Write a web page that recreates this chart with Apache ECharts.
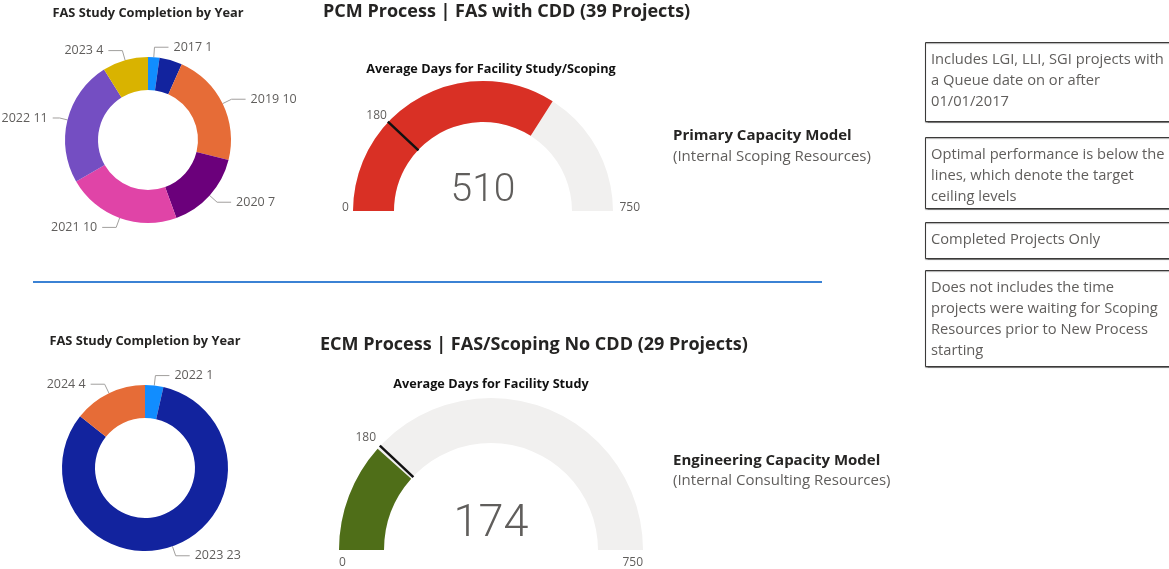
<!DOCTYPE html>
<html><head><meta charset="utf-8">
<script src="https://cdn.jsdelivr.net/npm/echarts@6/dist/echarts.min.js"></script>
<style>html,body{margin:0;padding:0;background:#fff;overflow:hidden}#c{width:1169px;height:569px}</style>
</head><body><div id="c"></div>
<script>
// ---------- data ----------
const topYears = ['2017', '2018', '2019', '2020', '2021', '2022', '2023'];
const topCounts = [1, 2, 10, 7, 10, 11, 4];
const bottomYears = ['2022', '2023', '2024'];
const bottomCounts = [1, 23, 4];
const hiddenLabelYears = ['2018'];
const shortLineYears = ['2022'];
const pcmAvgDays = 510;
const ecmAvgDays = 174;
const targetDays = 180;
const gaugeMin = 0;
const gaugeMax = 750;
const targetStep = 30;
const pcmTitle = 'PCM Process | FAS with CDD (39 Projects)';
const ecmTitle = 'ECM Process | FAS/Scoping No CDD (29 Projects)';
const donutTitle = 'FAS Study Completion by Year';
const pcmGaugeTitle = 'Average Days for Facility Study/Scoping';
const ecmGaugeTitle = 'Average Days for Facility Study';
const pcmModel = ['Primary Capacity Model', '(Internal Scoping Resources)'];
const ecmModel = ['Engineering Capacity Model', '(Internal Consulting Resources)'];
const notes = [
  'Includes LGI, LLI, SGI projects with\na Queue date on or after\n01/01/2017',
  'Optimal performance is below the\nlines, which denote the target\nceiling levels',
  'Completed Projects Only',
  'Does not includes the time\nprojects were waiting for Scoping\nResources prior to New Process\nstarting'
];

// ---------- styles ----------
const palette = ['#118DFF', '#12239E', '#E66C37', '#6B007B', '#E044A7', '#744EC2', '#D9B300'];
const FONT = '"Open Sans", "Noto Sans", sans-serif';
const DARK = '#252423';
const GREY = '#605E5C';

const chart = echarts.init(document.getElementById('c'), null, {renderer: 'canvas'});

function pieSeries(years, counts, center, isTop) {
  return {
    type: 'pie',
    center: center,
    radius: [50, 83],
    startAngle: 90,
    clockwise: true,
    avoidLabelOverlap: true,
    animation: false,
    label: {
      formatter: '{b} {c}', color: GREY, fontSize: 12.5, fontFamily: FONT, overflow: 'none'
    },
    labelLine: {length: 10, length2: 14, lineStyle: {color: '#A19F9D', width: 1}},
    emphasis: {disabled: true},
    data: years.map((y, i) => {
      const d = {name: y, value: counts[i], itemStyle: {color: palette[i % palette.length]}};
      if (isTop && hiddenLabelYears.includes(y)) {
        d.label = {show: false};
        d.labelLine = {show: false};
      }
      if (isTop && shortLineYears.includes(y)) {
        d.labelLine = {length: 8, length2: 7};
      }
      return d;
    })
  };
}

function gaugeSeries(cfg) {
  const base = {
    type: 'gauge',
    center: cfg.center,
    radius: cfg.r,
    startAngle: 180,
    endAngle: 0,
    min: gaugeMin,
    max: gaugeMax,
    animation: false,
    axisTick: {show: false},
    splitLine: {show: false, length: 0, distance: 0},
    anchor: {show: false},
    title: {show: false}
  };
  const main = Object.assign({}, base, {
    z: 2,
    splitNumber: 1,
    axisLine: {lineStyle: {width: cfg.w, color: [[1, '#F1F0EF']]}},
    progress: {show: true, width: cfg.w, itemStyle: {color: cfg.color}},
    pointer: {show: false},
    axisLabel: {
      show: true, color: GREY, fontSize: 12, fontFamily: FONT,
      distance: cfg.endDist, padding: cfg.endPad, lineHeight: cfg.endLH,
      formatter: cfg.endFmt
    },
    detail: {
      show: true, offsetCenter: [0, cfg.detailOff], fontSize: cfg.detailSize,
      color: GREY, fontFamily: 'Roboto, sans-serif', fontWeight: 300,
      formatter: '{value}', valueAnimation: false
    },
    data: [{value: cfg.value}]
  });
  const marker = Object.assign({}, base, {
    z: 5,
    splitNumber: (gaugeMax - gaugeMin) / targetStep,
    axisLine: {show: false},
    progress: {show: false},
    pointer: {
      show: true, icon: 'rect', width: 2.5, length: cfg.w + 1,
      offsetCenter: [0, -(cfg.r - cfg.w - 0.5)],
      itemStyle: {color: '#111'}
    },
    axisLabel: {
      show: true, color: GREY, fontSize: 12, fontFamily: FONT,
      distance: cfg.tDist, lineHeight: cfg.tLH,
      formatter: v => (v === targetDays ? '\n' + v : '')
    },
    detail: {show: false},
    data: [{value: targetDays}]
  });
  return [main, marker];
}

function txt(x, y, text, size, weight, color, align) {
  return {
    type: 'text', x: x, y: y, silent: true,
    style: {text: text, fontSize: size, fontWeight: weight || 'normal', fill: color || DARK,
      fontFamily: FONT, align: align || 'left', verticalAlign: 'middle'}
  };
}

const graphics = [
  txt(148, 13, donutTitle, 12.8, 'bold', DARK, 'center'),
  txt(145, 341, donutTitle, 12.8, 'bold', DARK, 'center'),
  txt(323, 12, pcmTitle, 18, 'bold', DARK),
  txt(320, 345, ecmTitle, 18, 'bold', DARK),
  txt(491, 69, pcmGaugeTitle, 12.7, 'bold', '#111', 'center'),
  txt(491, 384, ecmGaugeTitle, 12.7, 'bold', '#111', 'center'),
  txt(673, 136, pcmModel[0], 15, 'bold', DARK),
  txt(673, 157, pcmModel[1], 15, 'normal', GREY),
  txt(673, 461, ecmModel[0], 15, 'bold', DARK),
  txt(673, 481, ecmModel[1], 15, 'normal', GREY),
  {type: 'line', silent: true, shape: {x1: 33, y1: 282, x2: 822, y2: 282},
   style: {stroke: '#3B82D4', lineWidth: 2}}
];
const boxes = [[42, 121], [137, 208], [222, 258], [270, 366]];
boxes.forEach((b, i) => {
  graphics.push({type: 'rect', silent: true, shape: {x: 925.5, y: b[0] + 0.5, width: 260, height: b[1] - b[0]},
    style: {fill: '#fff', stroke: '#3B3A39', lineWidth: 1, shadowColor: 'rgba(0,0,0,0.35)', shadowOffsetY: 1, shadowBlur: 1}});
  graphics.push({type: 'text', silent: true, x: 931, y: b[0] + 7,
    style: {text: notes[i], fontSize: 14.7, lineHeight: 21, fill: GREY, fontFamily: FONT, align: 'left', verticalAlign: 'top'}});
});

chart.setOption({
  animation: false,
  graphic: graphics,
  series: [
    pieSeries(topYears, topCounts, [148, 140], true),
    pieSeries(bottomYears, bottomCounts, [145, 468], false),
    ...gaugeSeries({center: [483, 211], r: 130, w: 41, value: pcmAvgDays, color: '#D93025',
      endDist: -27, endPad: [0, 0, 0, 16], endLH: 6, endFmt: v => v + '\n',
      tDist: -30, tLH: 28, detailOff: -20, detailSize: 39}),
    ...gaugeSeries({center: [491, 550], r: 152, w: 45, value: ecmAvgDays, color: '#4F6E18',
      endDist: 0, endPad: [0, 0, 0, 0], endLH: 26, endFmt: v => '\n' + v,
      tDist: -34, tLH: 30, detailOff: -25, detailSize: 45})
  ]
});
</script>
</body></html>
